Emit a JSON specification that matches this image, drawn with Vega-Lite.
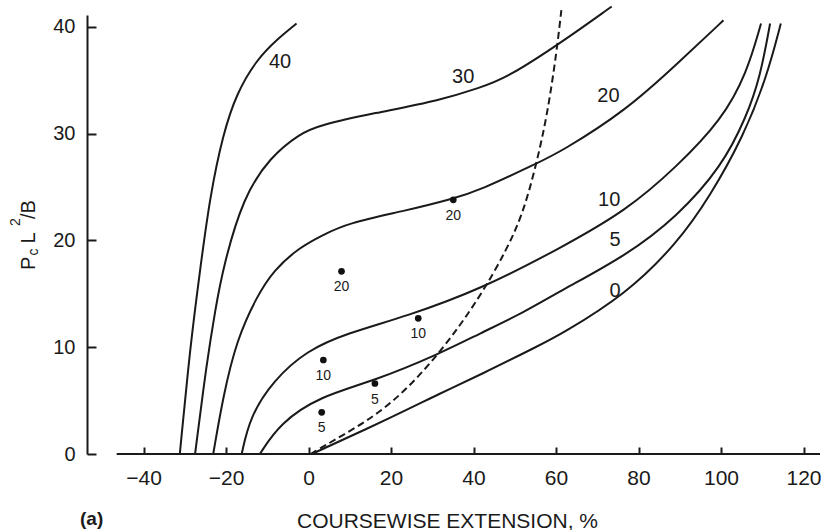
{
  "$schema": "https://vega.github.io/schema/vega-lite/v6.json",
  "autosize": "none",
  "width": 733,
  "height": 439,
  "padding": {"left": 87, "top": 15, "right": 1, "bottom": 76},
  "background": "white",
  "config": {
    "view": {"stroke": null},
    "font": "Liberation Sans",
    "text": {"font": "Liberation Sans", "color": "#1a1a1a"}
  },
  "datasets": {
    "curves": [
      {"curve": "0", "x": 0.8, "y": 0}, {"curve": "0", "x": 20.6, "y": 3.5}, {"curve": "0", "x": 32, "y": 5.7}, {"curve": "0", "x": 41.6, "y": 7.4}, {"curve": "0", "x": 56.1, "y": 10.2}, {"curve": "0", "x": 61.2, "y": 11.2}, {"curve": "0", "x": 77.1, "y": 15.0}, {"curve": "0", "x": 89.3, "y": 19.7}, {"curve": "0", "x": 97.3, "y": 24.1}, {"curve": "0", "x": 105.4, "y": 29.7}, {"curve": "0", "x": 111.1, "y": 35.3}, {"curve": "0", "x": 114.5, "y": 40.3},
      {"curve": "5", "x": -11.8, "y": 0}, {"curve": "5", "x": -6.9, "y": 2.9}, {"curve": "5", "x": 2.8, "y": 5.4}, {"curve": "5", "x": 15.6, "y": 6.8}, {"curve": "5", "x": 31.9, "y": 9.4}, {"curve": "5", "x": 41.6, "y": 11.3}, {"curve": "5", "x": 52, "y": 13.2}, {"curve": "5", "x": 61.2, "y": 15.3}, {"curve": "5", "x": 77.1, "y": 18.6}, {"curve": "5", "x": 89.3, "y": 22.2}, {"curve": "5", "x": 100.2, "y": 26.9}, {"curve": "5", "x": 106.2, "y": 31.6}, {"curve": "5", "x": 109.5, "y": 35.3}, {"curve": "5", "x": 111.9, "y": 40.3},
      {"curve": "10", "x": -16.2, "y": 0}, {"curve": "10", "x": -14.2, "y": 3.5}, {"curve": "10", "x": -8.5, "y": 6.9}, {"curve": "10", "x": -0.4, "y": 9.7}, {"curve": "10", "x": 9.3, "y": 11.3}, {"curve": "10", "x": 23.8, "y": 12.9}, {"curve": "10", "x": 41.6, "y": 15.4}, {"curve": "10", "x": 61.2, "y": 19.3}, {"curve": "10", "x": 77.1, "y": 22.8}, {"curve": "10", "x": 89.3, "y": 26.9}, {"curve": "10", "x": 100.2, "y": 31.3}, {"curve": "10", "x": 106.2, "y": 35.6}, {"curve": "10", "x": 109.7, "y": 40.3},
      {"curve": "20", "x": -23.1, "y": 0}, {"curve": "20", "x": -20.7, "y": 5.4}, {"curve": "20", "x": -17.4, "y": 10.7}, {"curve": "20", "x": -12.6, "y": 14.7}, {"curve": "20", "x": -8.5, "y": 17.2}, {"curve": "20", "x": -2, "y": 19.4}, {"curve": "20", "x": 3.5, "y": 20.5}, {"curve": "20", "x": 9.3, "y": 21.6}, {"curve": "20", "x": 23.8, "y": 22.8}, {"curve": "20", "x": 35.1, "y": 23.9}, {"curve": "20", "x": 41.6, "y": 24.7}, {"curve": "20", "x": 55.3, "y": 27.2}, {"curve": "20", "x": 61.2, "y": 28.3}, {"curve": "20", "x": 77.1, "y": 32.2}, {"curve": "20", "x": 89.3, "y": 36.5}, {"curve": "20", "x": 100.6, "y": 40.6},
      {"curve": "30", "x": -27.5, "y": 0}, {"curve": "30", "x": -24.7, "y": 8.5}, {"curve": "30", "x": -22.6, "y": 13.5}, {"curve": "30", "x": -20.7, "y": 17.5}, {"curve": "30", "x": -15.8, "y": 24.1}, {"curve": "30", "x": -9.3, "y": 27.8}, {"curve": "30", "x": -2.1, "y": 30.0}, {"curve": "30", "x": 2.8, "y": 30.8}, {"curve": "30", "x": 15.7, "y": 31.9}, {"curve": "30", "x": 31.9, "y": 33.1}, {"curve": "30", "x": 41.6, "y": 34.3}, {"curve": "30", "x": 48, "y": 35.2}, {"curve": "30", "x": 61.2, "y": 38.5}, {"curve": "30", "x": 73.5, "y": 41.9},
      {"curve": "40", "x": -31.2, "y": 0}, {"curve": "40", "x": -28.7, "y": 10}, {"curve": "40", "x": -26.3, "y": 17.2}, {"curve": "40", "x": -23.9, "y": 24.1}, {"curve": "40", "x": -20.7, "y": 30.0}, {"curve": "40", "x": -17.4, "y": 33.8}, {"curve": "40", "x": -12.6, "y": 36.9}, {"curve": "40", "x": -7.7, "y": 38.8}, {"curve": "40", "x": -2.9, "y": 40.3}
    ],
    "dashed": [
      {"x": 0.5, "y": 0}, {"x": 7.6, "y": 1.6}, {"x": 19.8, "y": 4.4}, {"x": 31.9, "y": 9.4}, {"x": 41.6, "y": 14.7}, {"x": 48, "y": 19.1}, {"x": 52, "y": 22.5}, {"x": 55.3, "y": 27.2}, {"x": 58, "y": 32}, {"x": 60.2, "y": 37.8}, {"x": 61.4, "y": 41.9}
    ],
    "points": [
      {"x": 8, "y": 17.1, "label": "20"},
      {"x": 26.6, "y": 12.7, "label": "10"},
      {"x": 3.6, "y": 8.8, "label": "10"},
      {"x": 16.1, "y": 6.6, "label": "5"},
      {"x": 3.2, "y": 3.9, "label": "5"},
      {"x": 35.1, "y": 23.8, "label": "20"}
    ],
    "curveLabels": [
      {"x": -6.9, "y": 36.7, "label": "40"},
      {"x": 37.5, "y": 35.3, "label": "30"},
      {"x": 72.7, "y": 33.5, "label": "20"},
      {"x": 72.9, "y": 23.8, "label": "10"},
      {"x": 74.3, "y": 20.0, "label": "5"},
      {"x": 74.3, "y": 15.3, "label": "0"}
    ],
    "ytitleMain": [
      {"x": -66.3, "y": 17.23, "t": "P"},
      {"x": -66.3, "y": 19.71, "t": "L"},
      {"x": -66.3, "y": 22.0, "t": "/B"}
    ],
    "ytitleSmall": [
      {"x": -65.7, "y": 18.59, "t": "c"},
      {"x": -70.0, "y": 21.35, "t": "2"}
    ],
    "panel": [{"x": -55.4, "y": -6.65, "t": "(a)"}],
    "baseline": [{"x": -46.5, "x2": 124, "y": 0}]
  },
  "layer": [
    {
      "data": {"name": "baseline"},
      "mark": {"type": "rule", "color": "#1a1a1a", "strokeWidth": 2},
      "encoding": {
        "x": {"field": "x", "type": "quantitative", "scale": {"domain": [-53.7, 124], "nice": false, "zero": false},
          "axis": {"values": [-40, -20, 0, 20, 40, 60, 80, 100, 120], "domain": false, "grid": false, "tickSize": -7, "tickWidth": 2, "tickColor": "#1a1a1a", "labelFontSize": 21, "labelColor": "#1a1a1a", "labelPadding": 20, "labelFont": "Liberation Sans",
            "title": "COURSEWISE EXTENSION, %", "titleFont": "Liberation Sans", "titleFontSize": 21, "titleFontWeight": "normal", "titleColor": "#1a1a1a", "titleX": 360, "titleY": 73, "titleAlign": "center", "titleBaseline": "alphabetic"}},
        "x2": {"field": "x2"},
        "y": {"field": "y", "type": "quantitative", "scale": {"domain": [0, 41.1], "nice": false, "zero": false},
          "axis": {"values": [0, 10, 20, 30, 40], "grid": false, "domainWidth": 2, "domainColor": "#1a1a1a", "tickSize": -9, "tickWidth": 2, "tickColor": "#1a1a1a", "labelFontSize": 20, "labelColor": "#1a1a1a", "labelPadding": 21, "labelFont": "Liberation Sans", "title": null}}
      }
    },
    {
      "data": {"name": "curves"},
      "mark": {"type": "line", "color": "#1a1a1a", "strokeWidth": 2, "interpolate": "basis"},
      "encoding": {
        "x": {"field": "x", "type": "quantitative"},
        "y": {"field": "y", "type": "quantitative"},
        "detail": {"field": "curve", "type": "nominal"}
      }
    },
    {
      "data": {"name": "dashed"},
      "mark": {"type": "line", "color": "#1a1a1a", "strokeWidth": 2, "strokeDash": [7, 4], "interpolate": "basis"},
      "encoding": {
        "x": {"field": "x", "type": "quantitative"},
        "y": {"field": "y", "type": "quantitative"}
      }
    },
    {
      "data": {"name": "points"},
      "mark": {"type": "circle", "color": "#111", "size": 45, "opacity": 1},
      "encoding": {
        "x": {"field": "x", "type": "quantitative"},
        "y": {"field": "y", "type": "quantitative"}
      }
    },
    {
      "data": {"name": "points"},
      "mark": {"type": "text", "fontSize": 14, "dy": 16, "align": "center", "baseline": "middle"},
      "encoding": {
        "x": {"field": "x", "type": "quantitative"},
        "y": {"field": "y", "type": "quantitative"},
        "text": {"field": "label"}
      }
    },
    {
      "data": {"name": "curveLabels"},
      "mark": {"type": "text", "fontSize": 20, "align": "center", "baseline": "middle"},
      "encoding": {
        "x": {"field": "x", "type": "quantitative"},
        "y": {"field": "y", "type": "quantitative"},
        "text": {"field": "label"}
      }
    },
    {
      "data": {"name": "ytitleMain"},
      "mark": {"type": "text", "fontSize": 20, "angle": 270, "align": "left", "baseline": "alphabetic"},
      "encoding": {
        "x": {"field": "x", "type": "quantitative"},
        "y": {"field": "y", "type": "quantitative"},
        "text": {"field": "t"}
      }
    },
    {
      "data": {"name": "ytitleSmall"},
      "mark": {"type": "text", "fontSize": 14, "angle": 270, "align": "left", "baseline": "alphabetic"},
      "encoding": {
        "x": {"field": "x", "type": "quantitative"},
        "y": {"field": "y", "type": "quantitative"},
        "text": {"field": "t"}
      }
    },
    {
      "data": {"name": "panel"},
      "mark": {"type": "text", "fontSize": 19, "fontWeight": "bold", "align": "left", "baseline": "alphabetic"},
      "encoding": {
        "x": {"field": "x", "type": "quantitative"},
        "y": {"field": "y", "type": "quantitative"},
        "text": {"field": "t"}
      }
    }
  ]
}
